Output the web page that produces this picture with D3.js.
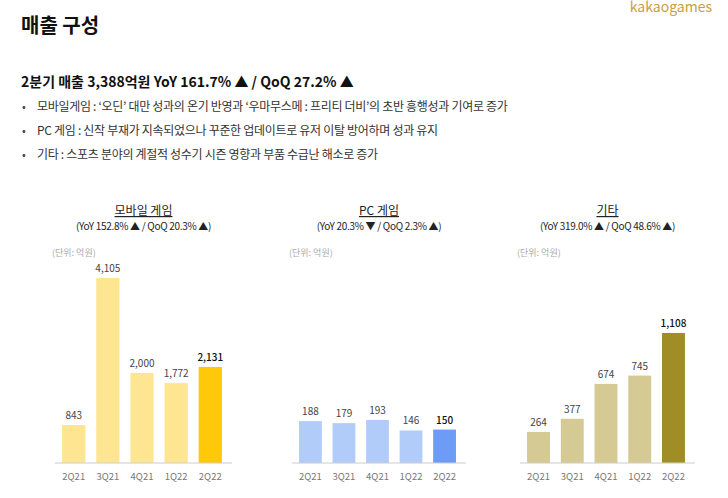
<!DOCTYPE html>
<html><head><meta charset="utf-8">
<script src="https://cdn.jsdelivr.net/npm/d3@7"></script>
<style>body{margin:0;background:#fff}text{font-family:"Noto Sans CJK KR","Noto Sans",sans-serif}</style>
</head><body><svg width="728" height="498"></svg>
<script>
var quarters = ["2Q21", "3Q21", "4Q21", "1Q22", "2Q22"];
var mobileValues = [843, 4105, 2000, 1772, 2131];
var pcValues = [188, 179, 193, 146, 150];
var otherValues = [264, 377, 674, 745, 1108];
var panelTitles = ["모바일 게임", "PC 게임", "기타"];
var panelSubs = ["(YoY 152.8% ▲ / QoQ 20.3% ▲)", "(YoY 20.3% ▼ / QoQ 2.3% ▲)", "(YoY 319.0% ▲ / QoQ 48.6% ▲)"];
var bullets = [
  "모바일게임 : ‘오딘’ 대만 성과의 온기 반영과 ‘우마무스메 : 프리티 더비’의 초반 흥행성과 기여로 증가",
  "PC 게임 : 신작 부재가 지속되었으나 꾸준한 업데이트로 유저 이탈 방어하며 성과 유지",
  "기타 : 스포츠 분야의 계절적 성수기 시즌 영향과 부품 수급난 해소로 증가"
];

var svg = d3.select("svg");

svg.append("text").attr("x", 712).attr("y", 12).attr("text-anchor", "end")
  .attr("font-size", 14).attr("fill", "#c8a040").text("kakaogames");
svg.append("text").attr("x", 21).attr("y", 33).attr("font-size", 20)
  .attr("font-weight", "bold").attr("fill", "#111").text("매출 구성");
svg.append("text").attr("x", 21).attr("y", 87).attr("font-size", 14)
  .attr("font-weight", "bold").attr("fill", "#111")
  .text("2분기 매출 3,388억원 YoY 161.7% ▲ / QoQ 27.2% ▲");

bullets.forEach(function(b, i) {
  svg.append("text").attr("x", 22).attr("y", 111 + i * 24).attr("font-size", 11).attr("fill", "#444").text("•");
  svg.append("text").attr("x", 37).attr("y", 111 + i * 24).attr("font-size", 12)
    .attr("fill", "#333").attr("letter-spacing", -0.3).text(b);
});

var panels = [
  {values: mobileValues, x0: 55, x1: 232, max: 4105, h: 185, light: "#fde591", dark: "#ffc90a"},
  {values: pcValues, x0: 292, x1: 466, max: 193, h: 43, light: "#b2ccf9", dark: "#6c9cf6"},
  {values: otherValues, x0: 520, x1: 695, max: 1108, h: 130, light: "#d5ca93", dark: "#a08d25"}
];
var base = 463;

panels.forEach(function(p, k) {
  var g = svg.append("g");
  var cx = (p.x0 + p.x1) / 2;
  g.append("text").attr("x", cx).attr("y", 215).attr("text-anchor", "middle")
    .attr("font-size", 12).attr("fill", "#222").attr("text-decoration", "underline").text(panelTitles[k]);
  g.append("text").attr("x", cx).attr("y", 230).attr("text-anchor", "middle")
    .attr("font-size", 10).attr("fill", "#222").attr("letter-spacing", -0.3).text(panelSubs[k]);
  g.append("text").attr("x", p.x0 - 3).attr("y", 256).attr("font-size", 9)
    .attr("fill", "#aaa").text("(단위: 억원)");

  var x = d3.scaleBand().domain(quarters).range([p.x0 + 2, p.x1 - 5]).paddingInner(0.32).paddingOuter(0.15);
  var y = d3.scaleLinear().domain([0, p.max]).range([base, base - p.h]);

  g.selectAll("rect").data(p.values).enter().append("rect")
    .attr("x", function(d, i) { return x(quarters[i]); })
    .attr("y", function(d) { return y(d); })
    .attr("width", x.bandwidth())
    .attr("height", function(d) { return base - y(d); })
    .attr("fill", function(d, i) { return i === 4 ? p.dark : p.light; });

  g.selectAll(".val").data(p.values).enter().append("text")
    .attr("x", function(d, i) { return x(quarters[i]) + x.bandwidth() / 2; })
    .attr("y", function(d) { return y(d) - 6; })
    .attr("text-anchor", "middle").attr("font-size", 10)
    .attr("fill", function(d, i) { return i === 4 ? "#111" : "#444"; })
    .attr("font-weight", function(d, i) { return i === 4 ? "500" : "normal"; })
    .text(d3.format(","));

  var ax = g.append("g").attr("transform", "translate(0," + base + ")")
    .call(d3.axisBottom(x).tickSize(0).tickPadding(10));
  ax.select(".domain").attr("stroke", "#ccc").attr("d", "M" + p.x0 + ",0H" + p.x1);
  ax.selectAll("text").attr("font-size", 9.5).attr("fill", "#777");
});
</script></body></html>
